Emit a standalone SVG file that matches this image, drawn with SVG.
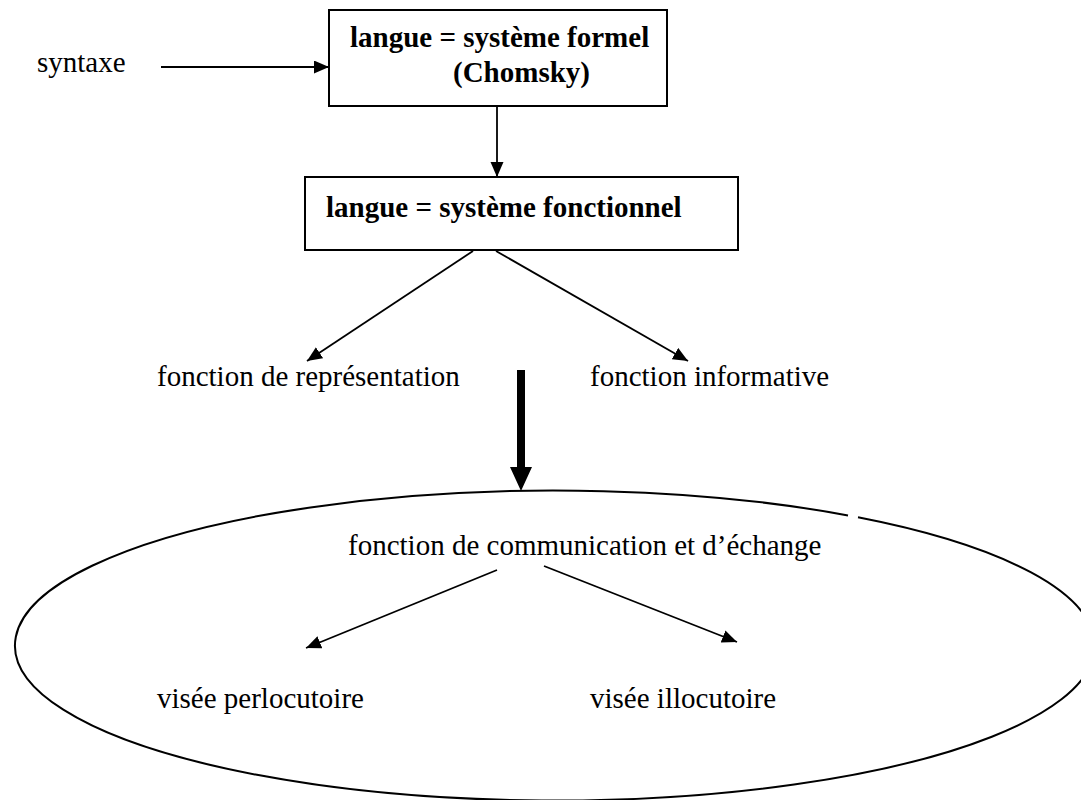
<svg xmlns="http://www.w3.org/2000/svg" width="1081" height="800" viewBox="0 0 1081 800">
<style>
.t{font-family:"Liberation Serif","Times New Roman",serif;font-size:29px;fill:#000}
.b{font-weight:bold}
.box{fill:#fff;stroke:#000;stroke-width:2}
.c{stroke:#000;stroke-width:1.8;fill:none}
</style>
<defs>
<marker id="ah" markerUnits="userSpaceOnUse" markerWidth="16" markerHeight="14" refX="15" refY="6.5" orient="auto">
<path d="M0,0 L15,6.5 L0,13 z" fill="#000"/>
</marker>
</defs>
<rect width="1081" height="800" fill="#fff"/>
<g id="ellipse">
<path d="M858,517.3 A540,155 0 1 1 848,515.4" fill="none" stroke="#000" stroke-width="2"/>
</g>
<g id="syntaxe"><text class="t" x="37" y="72">syntaxe</text></g>
<g id="formel">
<rect class="box" x="329" y="10" width="338" height="96"/>
<text class="t b" x="350" y="47">langue = système formel</text>
<text class="t b" x="453" y="82">(Chomsky)</text>
</g>
<g id="fonctionnel">
<rect class="box" x="305" y="177" width="433" height="73"/>
<text class="t b" x="326" y="217">langue = système fonctionnel</text>
</g>
<g id="representation"><text class="t" x="157" y="386">fonction de représentation</text></g>
<g id="informative"><text class="t" x="590" y="386">fonction informative</text></g>
<g id="communication"><text class="t" x="348" y="555">fonction de communication et d’échange</text></g>
<g id="perlocutoire"><text class="t" x="157" y="708">visée perlocutoire</text></g>
<g id="illocutoire"><text class="t" x="590" y="708">visée illocutoire</text></g>
<g id="connectors">
<line class="c" x1="161" y1="67" x2="329" y2="67" marker-end="url(#ah)"/>
<line class="c" x1="497" y1="106" x2="497" y2="177" marker-end="url(#ah)"/>
<line class="c" x1="473" y1="251" x2="307" y2="361" marker-end="url(#ah)"/>
<line class="c" x1="496" y1="251" x2="688" y2="361" marker-end="url(#ah)"/>
<path d="M517,370 H525 V467 H532 L521,491 L510,467 H517 Z" fill="#000"/>
<line class="c" x1="497" y1="570" x2="306" y2="648" marker-end="url(#ah)"/>
<line class="c" x1="544" y1="566" x2="737" y2="642" marker-end="url(#ah)"/>
</g>
</svg>
